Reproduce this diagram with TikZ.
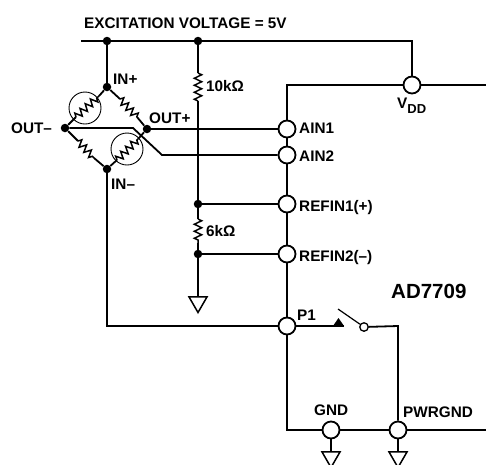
\documentclass[tikz,border=0pt]{standalone}
\usepackage{fontspec}
\setmainfont{Liberation Sans}
\usetikzlibrary{decorations.pathmorphing}
\usetikzlibrary{shapes.geometric}

\begin{document}
\begin{tikzpicture}[
            x=1pt, y=-1pt,
            pin node/.style={circle,fill=white,draw,line width=1.8pt, minimum size=17pt, inner sep=0pt},
            dot node/.style={circle,fill=black,minimum size=8.5pt, inner sep=0pt},
            small node/.style={circle,fill=white,draw,line width=1.3pt, minimum size=8.5pt, inner sep=0pt},
            gnd node/.style={regular polygon,regular polygon sides=3,shape border rotate=180,fill=white,draw,line width=1.5pt, minimum size=21pt, inner sep=0pt},
            gauge node/.style={circle,draw,line width=0.9pt, minimum size=32pt, inner sep=0pt},
            lbl/.style={font=\bfseries\fontsize{15.3}{17}\selectfont, inner sep=0pt, anchor=base west},
            wire/.style={line width=1.8pt},
            res/.style={line width=1.5pt, decorate, decoration={zigzag, segment length=7pt, amplitude=3.6pt}},
            ]
            \clip (0,0) rectangle (486,464);

            % rail
            \coordinate (railstart) at (81,41);
            \coordinate (railend) at (412,41);
            \node[dot node] (railA) at (107,41) {};
            \node[dot node] (railB) at (198,41) {};

            % bridge
            \node[dot node] (inp) at (107,87) {};
            \node[dot node] (outm) at (65,128) {};
            \node[dot node] (outp) at (147,129) {};
            \node[dot node] (inm) at (107,169) {};
            \node[gauge node] (gaugeA) at (85,108) {};
            \node[gauge node] (gaugeB) at (127,149) {};
            \coordinate (ra1) at (76,117);
            \coordinate (ra2) at (99,96);
            \coordinate (rb1) at (120,99);
            \coordinate (rb2) at (137,117);
            \coordinate (rc1) at (78,141);
            \coordinate (rc2) at (94,158);
            \coordinate (rd1) at (117,160);
            \coordinate (rd2) at (138,139);
            \coordinate (kneeA) at (133,128);
            \coordinate (kneeB) at (162,155);
            \coordinate (inmcorner) at (107,326);

            % divider
            \node[dot node] (refA) at (198,204) {};
            \node[dot node] (refB) at (198,254) {};
            \coordinate (r10a) at (198,73);
            \coordinate (r10b) at (198,101);
            \coordinate (r6a) at (198,219);
            \coordinate (r6b) at (198,243);
            \node[gnd node] (gndA) at (198,302) {};

            % chip
            \coordinate (boxTL) at (287,85);
            \coordinate (boxTR) at (486,85);
            \coordinate (boxBL) at (287,430);
            \coordinate (boxBR) at (486,430);
            \node[pin node] (vdd) at (412,85) {};
            \node[pin node] (ain1) at (287,129) {};
            \node[pin node] (ain2) at (287,155) {};
            \node[pin node] (ref1) at (287,204) {};
            \node[pin node] (ref2) at (287,254) {};
            \node[pin node] (p1) at (287,326) {};
            \node[pin node] (gnd) at (331,430) {};
            \node[pin node] (pwr) at (398,430) {};
            \node[gnd node] (gndB) at (331,457) {};
            \node[gnd node] (gndC) at (398,457) {};

            % switch
            \coordinate (contactL) at (333,326);
            \coordinate (contactR) at (344,326);
            \coordinate (contactT) at (338.5,318);
            \coordinate (armtop) at (338,309);
            \node[small node] (swpole) at (364,327) {};
            \coordinate (swcorner) at (398,326);

            \draw[wire] (railstart) -- (railA) -- (railB) -- (railend) -- (vdd);
            \draw[wire] (railA) -- (inp);
            \draw[wire] (inm) -- (inmcorner) -- (p1);
            \draw[wire] (railB) -- (r10a);
            \draw[res] (r10a) -- (r10b);
            \draw[wire] (r10b) -- (refA);
            \draw[wire] (refA) -- (r6a);
            \draw[res] (r6a) -- (r6b);
            \draw[wire] (r6b) -- (refB);
            \draw[wire] (refB) -- (gndA.north);
            \draw[wire] (refA) -- (ref1);
            \draw[wire] (refB) -- (ref2);

            \draw[wire] (outm) -- (ra1);
            \draw[res] (ra1) -- (ra2);
            \draw[wire] (ra2) -- (inp);
            \draw[wire] (inp) -- (rb1);
            \draw[res] (rb1) -- (rb2);
            \draw[wire] (rb2) -- (outp);
            \draw[wire] (outm) -- (rc1);
            \draw[res] (rc1) -- (rc2);
            \draw[wire] (rc2) -- (inm);
            \draw[wire] (inm) -- (rd1);
            \draw[res] (rd1) -- (rd2);
            \draw[wire] (rd2) -- (outp);
            \draw[wire] (outp) -- (ain1);
            \draw[wire] (outm) -- (kneeA) -- (kneeB) -- (ain2);

            \draw[wire] (boxTR) -- (vdd) -- (boxTL) -- (ain1) -- (ain2) -- (ref1) -- (ref2) -- (p1) -- (boxBL) -- (gnd) -- (pwr) -- (boxBR);
            \draw[wire] (p1) -- (contactR);
            \fill (contactL) -- (contactR) -- (contactT) -- cycle;
            \draw[line width=1.2pt] (armtop) -- (swpole);
            \draw[wire] (swpole) -- (swcorner) -- (pwr);
            \draw[wire] (gnd) -- (gndB.north);
            \draw[wire] (pwr) -- (gndC.north);

            \node[lbl] (exc) at (84,28) {EXCITATION VOLTAGE = 5V};
            \node[lbl] (inplbl) at (113,84) {IN+};
            \node[lbl] (outplbl) at (149,123) {OUT+};
            \node[lbl] (outmlbl) at (11,133) {OUT--};
            \node[lbl] (inmlbl) at (111,189) {IN--};
            \node[lbl] (r10lbl) at (206,91) {10kΩ};
            \node[lbl] (r6lbl) at (206,236) {6kΩ};
            \node[lbl] (vddlbl) at (397,108) {V\raisebox{-5pt}{\fontsize{13}{15}\selectfont DD}};
            \node[lbl] (ain1lbl) at (299,133) {AIN1};
            \node[lbl] (ain2lbl) at (299,161) {AIN2};
            \node[lbl] (ref1lbl) at (299,211) {REFIN1(+)};
            \node[lbl] (ref2lbl) at (299,261) {REFIN2(--)};
            \node[lbl] (p1lbl) at (297,320) {P1};
            \node[lbl, font=\bfseries\fontsize{20.5}{23}\selectfont] (chiplbl) at (391,298) {AD7709};
            \node[lbl] (gndlbl) at (314,415) {GND};
            \node[lbl] (pwrlbl) at (403,417) {PWRGND};
        \end{tikzpicture}
\end{document}
